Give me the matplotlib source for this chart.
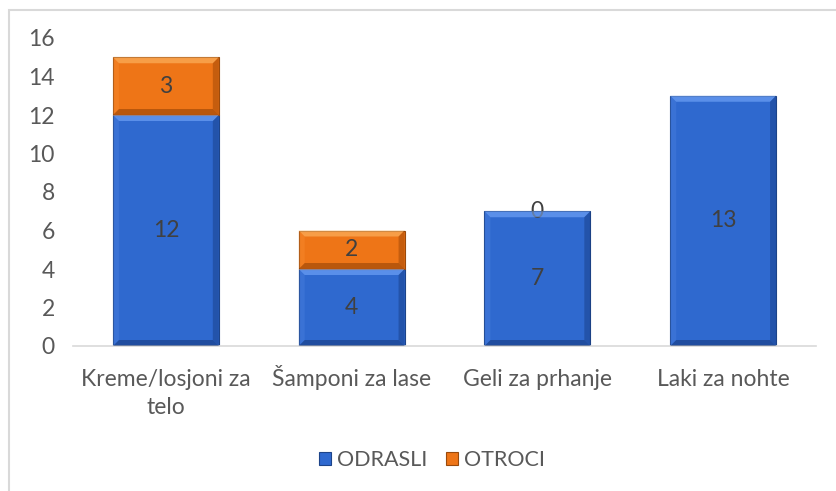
import matplotlib
matplotlib.use("Agg")
import matplotlib.pyplot as plt
from matplotlib.patches import Polygon, Rectangle
import numpy as np

categories = ["Kreme/losjoni za\ntelo", "Šamponi za lase", "Geli za prhanje", "Laki za nohte"]
odrasli = [12, 4, 7, 13]
otroci = [3, 2, 0, 0]
otroci_labels = ["3", "2", "0", None]
yticks = [0, 2, 4, 6, 8, 10, 12, 14, 16]

BLUE = "#2F69CF"
ORANGE = "#EE7517"
TXT = "#595959"
LBL = "#404040"
FS = 16.5

plt.rcParams['font.family'] = ['Lato', 'DejaVu Sans']

fig = plt.figure(figsize=(8.37, 4.91), dpi=100)
ax = fig.add_axes([73/837, 1-346/491, (816-73)/837, (346-38)/491])

x = np.arange(len(categories))
b1 = ax.bar(x, odrasli, width=0.57, color=BLUE, edgecolor="#1D4489", linewidth=0.8, label="ODRASLI", zorder=2)
b2 = ax.bar(x, otroci, bottom=odrasli, width=0.57, color=ORANGE, edgecolor="#9A4A0C", linewidth=0.8, label="OTROCI", zorder=2)
for p, v in zip(b2.patches, otroci):
    if v == 0:
        p.set_visible(False)

ax.set_xlim(-0.5, len(categories)-0.5)
ax.set_ylim(0, 16)
ax.set_yticks(yticks)
ax.set_xticks(x)
ax.set_xticklabels([])
ax.tick_params(axis='y', labelsize=FS, labelcolor=TXT, length=0, pad=13)
ax.tick_params(axis='x', length=0)
for s in ["top", "right", "left"]:
    ax.spines[s].set_visible(False)
ax.spines["bottom"].set_color("#D9D9D9")
ax.spines["bottom"].set_linewidth(1.2)

# category labels (baseline aligned so accents don't shift lines)
trans = ax.get_xaxis_transform()
for i, c in enumerate(categories):
    lines = c.split("\n")
    for j, ln in enumerate(lines):
        ax.annotate(ln, xy=(x[i], 0), xycoords=trans, xytext=(0, -(40 + j*28) * 72/100),
                    textcoords="offset points", ha="center", va="baseline",
                    fontsize=FS, color=TXT, annotation_clip=False)

# data labels
for i in range(len(categories)):
    ax.text(x[i], odrasli[i]/2, str(odrasli[i]), ha="center", va="center", fontsize=FS, color=LBL, zorder=5)
    if otroci_labels[i] is not None:
        ax.text(x[i], odrasli[i] + otroci[i]/2, otroci_labels[i], ha="center", va="center", fontsize=FS, color=LBL, zorder=5)

# bevel effect
fig.canvas.draw()
def bevel(patch, light, dark, side):
    if not patch.get_visible():
        return
    bb = patch.get_window_extent()
    if bb.height < 1:
        return
    x0, y0, x1, y1 = bb.x0, bb.y0, bb.x1, bb.y1
    d = min(6, bb.height/3)
    polys = [
        ([(x0, y1), (x1, y1), (x1-d, y1-d), (x0+d, y1-d)], light, 0.55),
        ([(x0, y0), (x1, y0), (x1-d, y0+d), (x0+d, y0+d)], dark, 0.45),
        ([(x1, y0), (x1, y1), (x1-d, y1-d), (x1-d, y0+d)], dark, 0.35),
        ([(x0, y0), (x0, y1), (x0+d, y1-d), (x0+d, y0+d)], side, 0.25),
    ]
    for pts, c, a in polys:
        fig.add_artist(Polygon(pts, closed=True, transform=None, facecolor=c, edgecolor="none", alpha=a, zorder=3))

for p in b1.patches:
    bevel(p, "#7FB0FF", "#0E2C66", "#5B8EE8")
for p in b2.patches:
    bevel(p, "#FFC070", "#7A3300", "#FF9A40")

leg = fig.legend(handles=[b1, b2], loc="center", bbox_to_anchor=(432/837, 1-460/491), ncol=2,
                 frameon=False, fontsize=15.5, handlelength=0.55, handleheight=0.55,
                 handletextpad=0.25, columnspacing=0.9)
for t in leg.get_texts():
    t.set_color(TXT)

# chart border
fig.add_artist(Rectangle((9/837, -0.2), 1.2, 1.2 - 10/491, transform=fig.transFigure,
                         fill=False, edgecolor="#D9D9D9", linewidth=1.5, zorder=0))

fig.savefig("out.png", dpi=100)
